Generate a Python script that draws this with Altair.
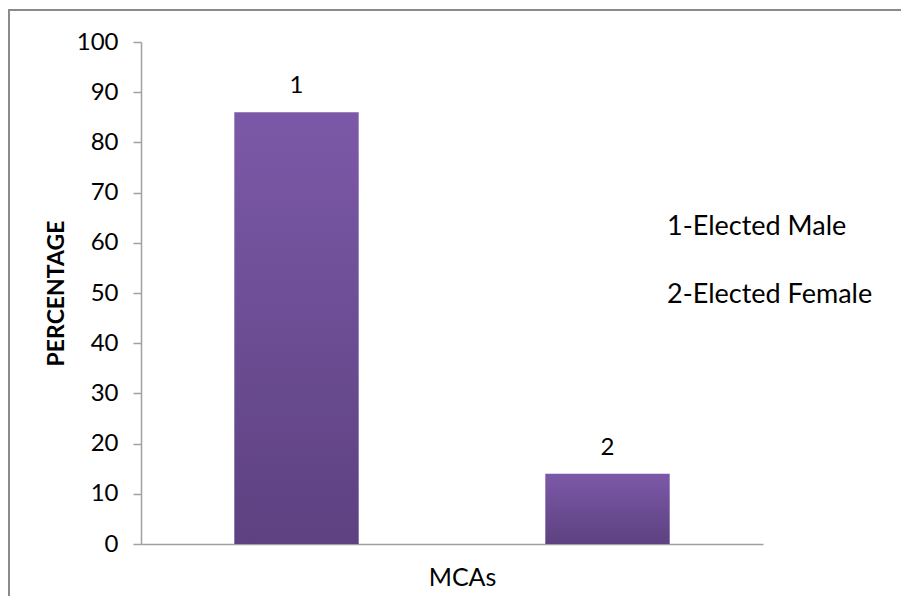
import altair as alt
import pandas as pd

categories = ["1", "2"]
values = [86, 14]
legend_labels = ["1-Elected Male", "2-Elected Female"]
y_ticks = [0, 10, 20, 30, 40, 50, 60, 70, 80, 90, 100]

df = pd.DataFrame({"cat": categories, "value": values})
legend_df = pd.DataFrame({"label": legend_labels})

FONT = "Lato"
AXIS_GREY = "#a0a0a0"

gradient = alt.Gradient(
    gradient="linear",
    x1=0, x2=0, y1=0, y2=1,
    stops=[
        alt.GradientStop(color="#7c59a8", offset=0),
        alt.GradientStop(color="#5d4180", offset=1),
    ],
)

x_enc = alt.X(
    "cat:N",
    sort=categories,
    scale=alt.Scale(paddingInner=0.6, paddingOuter=0.3),
    axis=alt.Axis(
        title="MCAs", labels=False, ticks=False, domainColor=AXIS_GREY, domainWidth=1.5,
        titleFont=FONT, titleFontSize=25, titleFontWeight="normal", titleColor="black",
        titleX=321, titleY=33, titleBaseline="middle",
    ),
)
y_enc = alt.Y(
    "value:Q",
    scale=alt.Scale(domain=[0, 100], nice=False),
    axis=alt.Axis(
        title="PERCENTAGE", values=y_ticks, grid=False,
        domainColor=AXIS_GREY, domainWidth=1.5, tickColor=AXIS_GREY, tickWidth=1.5, tickSize=8,
        labelFont=FONT, labelFontSize=24, labelColor="black", labelPadding=15,
        titleFont=FONT, titleFontSize=23, titleFontWeight="bold", titleColor="black",
        titleAngle=270, titleX=-85, titleY=251, titleAlign="center", titleBaseline="middle",
    ),
)

base = alt.Chart(df)

bars = base.mark_bar(color=gradient).encode(x=x_enc, y=y_enc)

labels = base.mark_text(font=FONT, fontSize=24, color="black", dy=-19, baseline="alphabetic").encode(
    x=alt.X("cat:N", sort=categories),
    y=alt.Y("value:Q"),
    text="cat:N",
)

legend_layer = alt.Chart(legend_df).mark_point(opacity=0).encode(
    color=alt.Color(
        "label:N",
        sort=legend_labels,
        scale=alt.Scale(range=["#000000", "#000000"]),
        legend=alt.Legend(
            title=None, orient="none", legendX=499, legendY=171,
            symbolSize=0, symbolOpacity=0, symbolStrokeWidth=0,
            labelFont=FONT, labelFontSize=27, labelColor="black", labelLimit=400,
            rowPadding=40, labelOffset=0,
        ),
    )
)

border_left = base.mark_rule(color="#8a8a8a", strokeWidth=2).encode(
    x=alt.value(-132), y=alt.value(-32), y2=alt.value(600)
)
border_top = base.mark_rule(color="#8a8a8a", strokeWidth=2).encode(
    x=alt.value(-133), x2=alt.value(760), y=alt.value(-32)
)

chart = (
    alt.layer(border_left, border_top, bars, labels, legend_layer)
    .properties(
        width=622,
        height=502,
        autosize=alt.AutoSizeParams(type="none"),
        padding={"left": 133, "top": 34, "right": 140, "bottom": 52},
    )
    .configure_view(stroke=None)
)

chart.save("out.html", embed_options={"renderer": "svg", "actions": False})
